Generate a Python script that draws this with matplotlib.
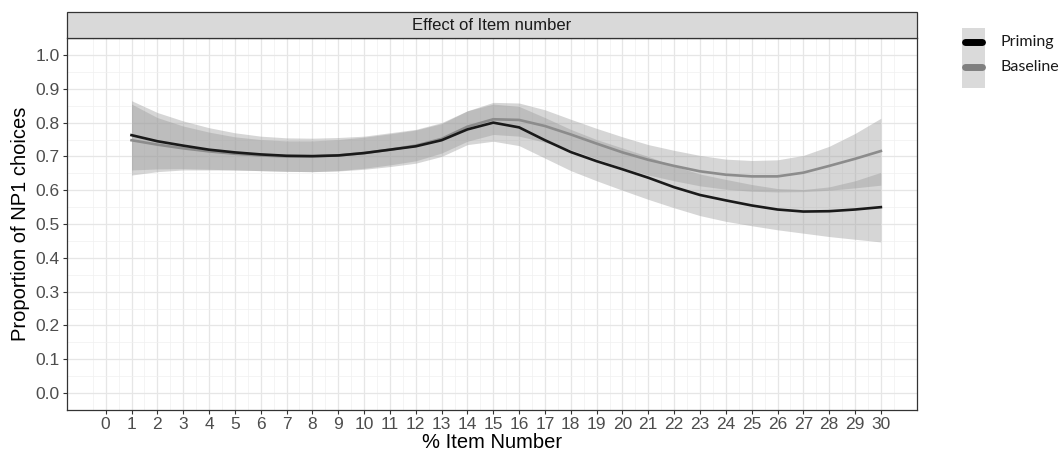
import numpy as np
import matplotlib.pyplot as plt
import matplotlib.patches as patches
from matplotlib.lines import Line2D

plt.rcParams['font.family'] = ['Liberation Sans', 'DejaVu Sans']

# 数据：项目编号与两条平滑曲线及其置信区间
item = list(range(1, 31))
priming = [0.763, 0.745, 0.732, 0.720, 0.712, 0.706, 0.702, 0.701, 0.703, 0.710,
           0.720, 0.730, 0.748, 0.780, 0.800, 0.786, 0.748, 0.713, 0.686, 0.662,
           0.637, 0.609, 0.586, 0.570, 0.555, 0.543, 0.537, 0.538, 0.543, 0.550]
priming_lo = [0.660, 0.663, 0.664, 0.662, 0.660, 0.658, 0.656, 0.655, 0.657, 0.662,
              0.670, 0.680, 0.700, 0.735, 0.745, 0.732, 0.695, 0.658, 0.628, 0.600,
              0.573, 0.548, 0.525, 0.508, 0.495, 0.483, 0.473, 0.463, 0.455, 0.447]
priming_hi = [0.865, 0.830, 0.805, 0.785, 0.770, 0.760, 0.755, 0.754, 0.756, 0.760,
              0.770, 0.780, 0.800, 0.835, 0.855, 0.848, 0.815, 0.780, 0.750, 0.725,
              0.700, 0.672, 0.648, 0.632, 0.617, 0.605, 0.602, 0.610, 0.628, 0.653]
baseline = [0.748, 0.735, 0.724, 0.715, 0.708, 0.703, 0.700, 0.700, 0.703, 0.710,
            0.720, 0.732, 0.752, 0.788, 0.810, 0.808, 0.790, 0.765, 0.738, 0.712,
            0.690, 0.672, 0.656, 0.646, 0.641, 0.641, 0.652, 0.672, 0.693, 0.716]
baseline_lo = [0.645, 0.655, 0.660, 0.660, 0.660, 0.658, 0.656, 0.655, 0.658, 0.665,
               0.675, 0.687, 0.710, 0.745, 0.765, 0.760, 0.742, 0.720, 0.693, 0.667,
               0.645, 0.628, 0.613, 0.603, 0.597, 0.595, 0.596, 0.600, 0.607, 0.615]
baseline_hi = [0.855, 0.815, 0.790, 0.772, 0.758, 0.750, 0.746, 0.746, 0.750, 0.757,
               0.767, 0.778, 0.797, 0.835, 0.860, 0.858, 0.838, 0.810, 0.783, 0.758,
               0.735, 0.718, 0.703, 0.692, 0.688, 0.690, 0.703, 0.730, 0.768, 0.813]

xticks = list(range(0, 31))
yticks = [round(v * 0.1, 1) for v in range(11)]
groups = ['Priming', 'Baseline']
group_colors = ['black', '#7f7f7f']

fig = plt.figure(figsize=(10.62, 4.54), dpi=100)
ax = fig.add_axes([0.063, 0.097, 0.8005, 0.819])

# 置信带
ax.fill_between(item, priming_lo, priming_hi, color='#999999', alpha=0.4, lw=0, zorder=2)
ax.fill_between(item, baseline_lo, baseline_hi, color='#999999', alpha=0.4, lw=0, zorder=2)
# 曲线
ax.plot(item, baseline, color='#8c8c8c', lw=1.9, zorder=3)
ax.plot(item, priming, color='#1a1a1a', lw=1.9, zorder=4)

ax.set_xlim(-1.5, 31.4)
ax.set_ylim(-0.05, 1.05)
ax.set_xticks(xticks)
ax.set_xticklabels([str(t) for t in xticks])
ax.set_yticks(yticks)
ax.set_yticklabels([f'{t:.1f}' for t in yticks])
ax.set_xticks(np.arange(-0.5, 31, 1), minor=True)
ax.set_yticks(np.arange(-0.05, 1.06, 0.1), minor=True)
ax.grid(True, which='major', color='#e6e6e6', lw=0.9, zorder=0)
ax.grid(True, which='minor', color='#f0f0f0', lw=0.5, zorder=0)
ax.set_axisbelow(True)
ax.tick_params(which='major', length=3, width=0.8, color='#333333',
               labelcolor='#4d4d4d', labelsize=12.5, pad=2)
ax.tick_params(which='minor', length=0)
for s in ax.spines.values():
    s.set_color('#333333')
    s.set_linewidth(0.9)

ax.set_xlabel('% Item Number', fontsize=14.5, labelpad=1)
ax.set_ylabel('Proportion of NP1 choices', fontsize=14.5, labelpad=4)

# 分面标题条
strip = patches.Rectangle((0.063, 0.916), 0.8005, 0.057, transform=fig.transFigure,
                          facecolor='#d9d9d9', edgecolor='#333333', lw=0.9)
fig.add_artist(strip)
fig.text(0.063 + 0.8005 / 2, 0.916 + 0.0285, 'Effect of Item number',
         ha='center', va='center', fontsize=12, color='#1a1a1a')

# 图例（手动绘制，像素坐标换算到图坐标）
W, H = 1062, 454
key_bg = patches.Rectangle((962 / W, 1 - 88 / H), 23 / W, 60 / H, transform=fig.transFigure,
                           facecolor='#dadada', edgecolor='none')
fig.add_artist(key_bg)
for i, (g, c) in enumerate(zip(groups, group_colors)):
    yk = 1 - (42 + 25 * i) / H
    fig.add_artist(Line2D([965 / W, 982 / W], [yk, yk], transform=fig.transFigure,
                          color=c, lw=5, solid_capstyle='round'))
    fig.text(1001 / W, yk, g, ha='left', va='center', fontsize=11.5,
             family=['Lato', 'DejaVu Sans'], color='#1a1a1a')

fig.savefig('out.png', dpi=100)
